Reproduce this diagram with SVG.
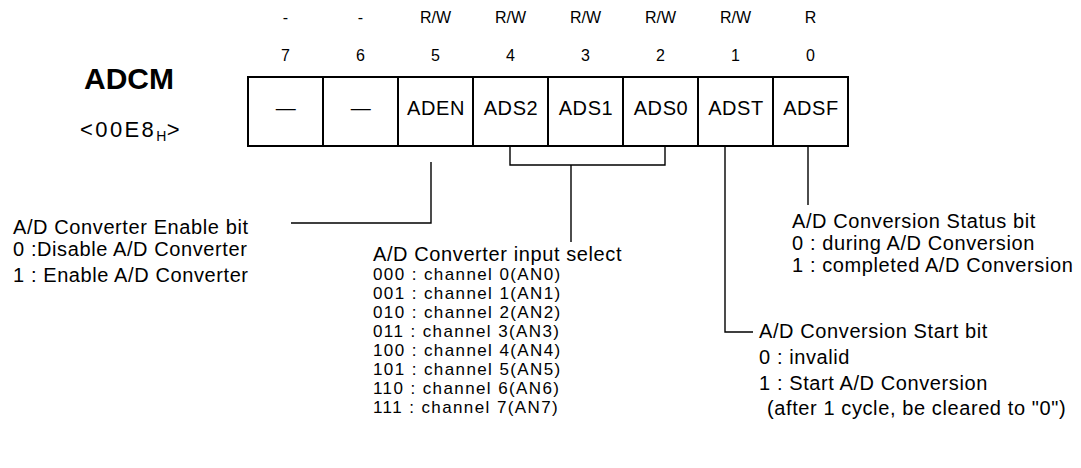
<svg xmlns="http://www.w3.org/2000/svg" width="1081" height="468" viewBox="0 0 1081 468">
<style>
text{font-family:"Liberation Sans",Arial,sans-serif;fill:#000}
.t{font-size:16px;text-anchor:middle}
.c{font-size:20px;letter-spacing:0.6px;text-anchor:middle}
.b{font-size:20px;letter-spacing:0.6px}
.l{font-size:17px;letter-spacing:1.4px}
.cell{fill:#fff;stroke:#000;stroke-width:2}
.ln{fill:none;stroke:#000;stroke-width:1.4}
</style>
<rect width="1081" height="468" fill="#fff"/>
<g id="title">
<text x="84" y="89" style="font-size:30px;font-weight:bold">ADCM</text>
<text x="80" y="137" style="font-size:22px;letter-spacing:2.4px">&lt;00E8<tspan style="font-size:14px;letter-spacing:0.5px" dy="4">H</tspan><tspan dy="-4">&gt;</tspan></text>
</g>
<g id="access">
<text class="t" x="285.5" y="23">-</text>
<text class="t" x="360.5" y="23">-</text>
<text class="t" x="435.5" y="23">R/W</text>
<text class="t" x="510.5" y="23">R/W</text>
<text class="t" x="585.5" y="23">R/W</text>
<text class="t" x="660.5" y="23">R/W</text>
<text class="t" x="735.5" y="23">R/W</text>
<text class="t" x="810.5" y="23">R</text>
</g>
<g id="bitnum">
<text class="t" x="285.5" y="61">7</text>
<text class="t" x="360.5" y="61">6</text>
<text class="t" x="435.5" y="61">5</text>
<text class="t" x="510.5" y="61">4</text>
<text class="t" x="585.5" y="61">3</text>
<text class="t" x="660.5" y="61">2</text>
<text class="t" x="735.5" y="61">1</text>
<text class="t" x="810.5" y="61">0</text>
</g>
<g id="bit7"><rect class="cell" x="248" y="77" width="75" height="69"/><text class="c" x="286" y="115">—</text></g>
<g id="bit6"><rect class="cell" x="323" y="77" width="75" height="69"/><text class="c" x="361" y="115">—</text></g>
<g id="bit5"><rect class="cell" x="398" y="77" width="75" height="69"/><text class="c" x="436" y="115">ADEN</text></g>
<g id="bit4"><rect class="cell" x="473" y="77" width="75" height="69"/><text class="c" x="511" y="115">ADS2</text></g>
<g id="bit3"><rect class="cell" x="548" y="77" width="75" height="69"/><text class="c" x="586" y="115">ADS1</text></g>
<g id="bit2"><rect class="cell" x="623" y="77" width="75" height="69"/><text class="c" x="661" y="115">ADS0</text></g>
<g id="bit1"><rect class="cell" x="698" y="77" width="75" height="69"/><text class="c" x="736" y="115">ADST</text></g>
<g id="bit0"><rect class="cell" x="773" y="77" width="75" height="69"/><text class="c" x="811" y="115">ADSF</text></g>
<g id="connectors">
<polyline class="ln" points="431,162 431,223 291,223"/>
<polyline class="ln" points="510,146 510,165 665,165 665,146"/>
<line class="ln" x1="571" y1="165" x2="571" y2="242"/>
<polyline class="ln" points="725,146 725,332 753,332"/>
<line class="ln" x1="808" y1="146" x2="808" y2="205"/>
</g>
<g id="desc-aden">
<text class="b" x="13" y="234">A/D Converter Enable bit</text>
<text class="b" x="13" y="256">0 :Disable A/D Converter</text>
<text class="b" x="13" y="282">1 : Enable A/D Converter</text>
</g>
<g id="desc-ads">
<text class="b" x="373" y="261">A/D Converter input select</text>
<text class="l" x="373" y="280">000 : channel 0(AN0)</text>
<text class="l" x="373" y="299">001 : channel 1(AN1)</text>
<text class="l" x="373" y="318">010 : channel 2(AN2)</text>
<text class="l" x="373" y="337">011 : channel 3(AN3)</text>
<text class="l" x="373" y="356">100 : channel 4(AN4)</text>
<text class="l" x="373" y="375">101 : channel 5(AN5)</text>
<text class="l" x="373" y="394">110 : channel 6(AN6)</text>
<text class="l" x="373" y="413">111 : channel 7(AN7)</text>
</g>
<g id="desc-adsf">
<text class="b" x="792" y="228">A/D Conversion Status bit</text>
<text class="b" x="792" y="250">0 : during A/D Conversion</text>
<text class="b" x="792" y="272">1 : completed A/D Conversion</text>
</g>
<g id="desc-adst">
<text class="b" x="759" y="338">A/D Conversion Start bit</text>
<text class="b" x="759" y="364">0 : invalid</text>
<text class="b" x="759" y="390">1 : Start A/D Conversion</text>
<text class="b" x="767" y="415">(after 1 cycle, be cleared to "0")</text>
</g>
</svg>
